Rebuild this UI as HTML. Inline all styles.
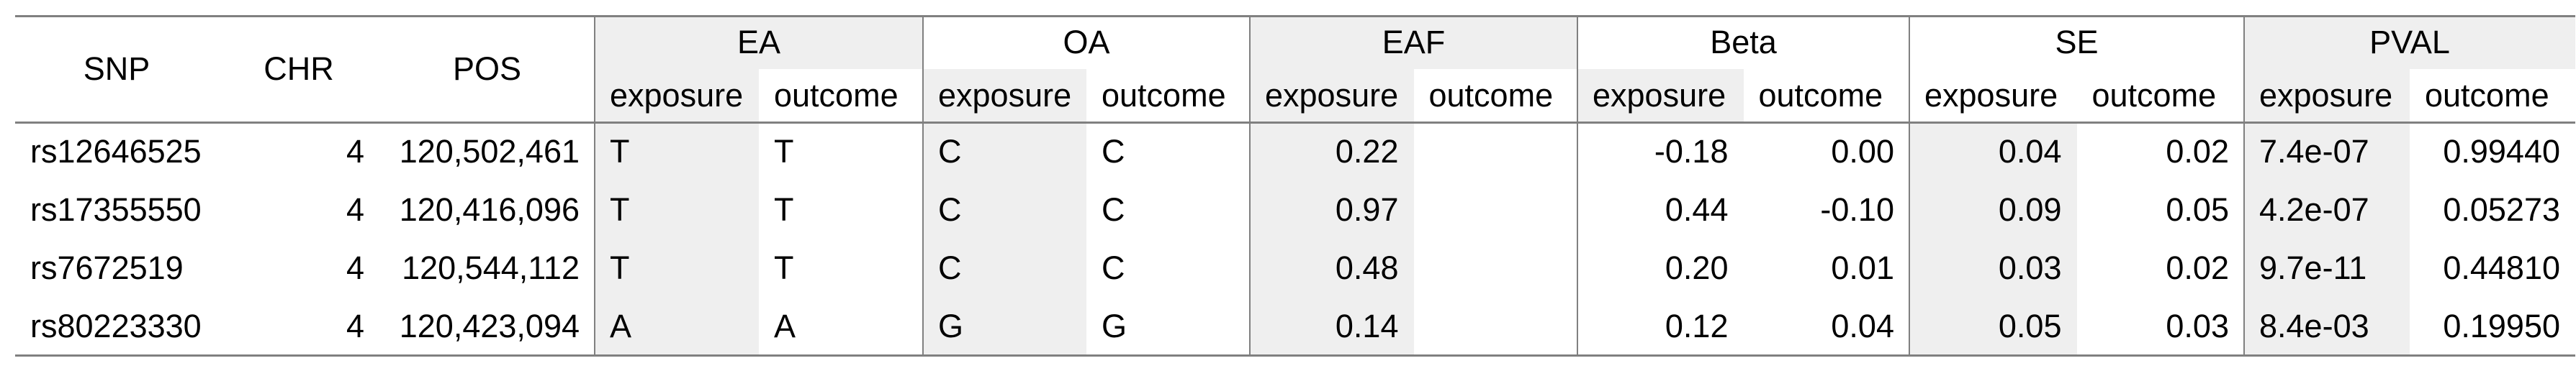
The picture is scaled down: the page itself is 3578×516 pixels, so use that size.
<!DOCTYPE html>
<html><head><meta charset="utf-8">
<style>
html,body{margin:0;padding:0;background:#fff;}
#root{position:relative;width:3578px;height:516px;overflow:hidden;font-family:"Liberation Sans",sans-serif;font-size:45px;color:#000;}
.c{position:absolute;box-sizing:border-box;display:flex;align-items:center;white-space:nowrap;}
.l{justify-content:flex-start;padding-left:21px;}
.r{justify-content:flex-end;padding-right:21px;}
.m{justify-content:center;}
.g{background:#efefef;}
.hl{position:absolute;background:#808080;}
</style></head>
<body>
<div id="root"></div>
<script>
const snps = ["rs12646525","rs17355550","rs7672519","rs80223330"];
const chr = ["4","4","4","4"];
const pos = ["120,502,461","120,416,096","120,544,112","120,423,094"];
const groups = ["EA","OA","EAF","Beta","SE","PVAL"];
const eaExp = ["T","T","T","A"], eaOut = ["T","T","T","A"];
const oaExp = ["C","C","C","G"], oaOut = ["C","C","C","G"];
const eafExp = ["0.22","0.97","0.48","0.14"], eafOut = ["","","",""];
const betaExp = ["-0.18","0.44","0.20","0.12"], betaOut = ["0.00","-0.10","0.01","0.04"];
const seExp = ["0.04","0.09","0.03","0.05"], seOut = ["0.02","0.05","0.02","0.03"];
const pExp = ["7.4e-07","4.2e-07","9.7e-11","8.4e-03"], pOut = ["0.99440","0.05273","0.44810","0.19950"];

const groupData = [[eaExp,eaOut],[oaExp,oaOut],[eafExp,eafOut],[betaExp,betaOut],[seExp,seOut],[pExp,pOut]];
const expAlign = ["l","l","r","r","r","l"];
const outAlign = ["l","l","r","r","r","r"];
const groupTitleGrey = [true,false,true,false,false,true];
const subHeadGrey = [true,true,true,true,false,true];
const bodyGrey = [true,true,true,false,true,true];

const root = document.getElementById('root');
const gb = [826,1282,1736,2191,2652,3117,3577];
const leftB = [21,303,527,826];
const yTop=22, yMid=96, yHead=170, rowH=81;

function cell(x,y,w,h,txt,cls,name){
  const d=document.createElement('div');
  d.className='c '+cls;
  d.style.left=x+'px';d.style.top=y+'px';d.style.width=w+'px';d.style.height=h+'px';
  d.textContent=txt;
  
  
  root.appendChild(d);
}
const leftNames=["SNP","CHR","POS"];
leftNames.forEach((t,i)=>cell(leftB[i],yTop,leftB[i+1]-leftB[i],yHead-yTop,t,'m','header-'+t.toLowerCase()));
groups.forEach((g,gi)=>{
  const x0=gb[gi], x1=gb[gi+1], half=(x1-x0)/2;
  cell(x0,yTop,x1-x0,yMid-yTop,g,'m'+(groupTitleGrey[gi]?' g':''),'header-'+g.toLowerCase());
  cell(x0,yMid,half,yHead-yMid,'exposure','l'+(subHeadGrey[gi]?' g':''),'subheader-'+g.toLowerCase()+'-exposure');
  cell(x0+half,yMid,half,yHead-yMid,'outcome','l','subheader-'+g.toLowerCase()+'-outcome');
});
snps.forEach((s,ri)=>{
  const y=yHead+ri*rowH;
  cell(leftB[0],y,leftB[1]-leftB[0],rowH,s,'l','snp-cell');
  cell(leftB[1],y,leftB[2]-leftB[1],rowH,chr[ri],'r','chr-cell');
  cell(leftB[2],y,leftB[3]-leftB[2],rowH,pos[ri],'r','pos-cell');
  groups.forEach((g,gi)=>{
    const x0=gb[gi], half=(gb[gi+1]-x0)/2;
    cell(x0,y,half,rowH,groupData[gi][0][ri],expAlign[gi]+(bodyGrey[gi]?' g':''),g.toLowerCase()+'-exposure-cell');
    cell(x0+half,y,half,rowH,groupData[gi][1][ri],outAlign[gi],g.toLowerCase()+'-outcome-cell');
  });
});
function line(x,y,w,h,name){
  const d=document.createElement('div');d.className='hl';
  d.style.left=x+'px';d.style.top=y+'px';d.style.width=w+'px';d.style.height=h+'px';
  
  
  root.appendChild(d);
}
line(21,yTop-1,3556,3,'top-rule');
line(21,yHead-1,3556,3,'header-rule');
line(21,yHead+4*rowH-1,3556,3,'bottom-rule');
for(let i=0;i<6;i++) line(gb[i]-1,yTop,2,yHead+4*rowH-yTop,'group-divider');
</script>
</body></html>
